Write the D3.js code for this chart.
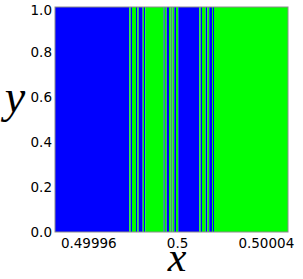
<!DOCTYPE html>
<html>
<head>
<meta charset="utf-8">
<script src="https://cdn.jsdelivr.net/npm/d3@7"></script>
<style>
  body { margin: 0; background: #fff; }
  svg { display: block; }
</style>
</head>
<body>
<div id="chart"></div>
<script>
// stripe boundaries along x (the pattern is constant in y)
var breaks = [0.499945, 0.49997848, 0.49997911, 0.4999797, 0.4999815, 0.49998209, 0.49998272,
  0.49998452, 0.49998511, 0.49998569, 0.49999398, 0.49999443, 0.49999534, 0.49999637,
  0.49999714, 0.49999804, 0.49999876, 0.49999953, 0.50000056, 0.50001003, 0.50001066,
  0.50001124, 0.50001291, 0.50001363, 0.50001453, 0.50001575, 0.5000162, 0.50001665, 0.50005];
// basin of each stripe: 0 = blue, 1 = green, 2 = mixed
var basin = [0, 1, 0, 1, 0, 1, 0, 1, 0, 1, 0, 1, 0, 1, 2, 1, 0, 1, 0, 1, 0, 1, 0, 1, 0, 1, 0, 1];
var xTicks = [0.49996, 0.5, 0.50004];
var xTickLabels = ["0.49996", "0.5", "0.50004"];
var yTicks = [0, 0.2, 0.4, 0.6, 0.8, 1.0];

var W = 303, H = 279;
var margin = { top: 7, right: 15, bottom: 47, left: 55 },
    width = W - margin.left - margin.right,
    height = H - margin.top - margin.bottom;

var svg = d3.select("#chart").append("svg")
    .attr("width", W)
    .attr("height", H);

var g = svg.append("g")
    .attr("transform", "translate(" + margin.left + "," + margin.top + ")");

var x = d3.scaleLinear().domain([breaks[0], breaks[breaks.length - 1]]).range([0, width]);
var y = d3.scaleLinear().domain([0, 1]).range([height, 0]);
var color = d3.scaleOrdinal().domain([0, 1, 2]).range(["#0000ff", "#00ff00", "#3f9f6a"]);

var stripes = basin.map(function (b, i) { return { x0: breaks[i], x1: breaks[i + 1], b: b }; });

g.selectAll("rect.stripe")
  .data(stripes)
  .enter().append("rect")
    .attr("class", "stripe")
    .attr("x", function (d) { return x(d.x0); })
    .attr("width", function (d) { return x(d.x1) - x(d.x0); })
    .attr("y", y(1))
    .attr("height", y(0) - y(1))
    .attr("fill", function (d) { return color(d.b); });

// frame
g.append("rect")
  .attr("x", 0).attr("y", 0)
  .attr("width", width).attr("height", height)
  .attr("fill", "none")
  .attr("stroke", "#8c8c8c")
  .attr("stroke-width", 1);

// x axis, labels only
var xAxis = g.append("g")
  .attr("transform", "translate(0," + height + ")")
  .call(d3.axisBottom(x).tickValues(xTicks).tickFormat(function (d, i) { return xTickLabels[i]; }).tickSize(0).tickPadding(6));
xAxis.select(".domain").remove();
xAxis.selectAll("text")
  .attr("font-family", "DejaVu Sans, sans-serif")
  .attr("font-size", 13.5)
  .attr("fill", "#000");

// y axis, labels only
var yAxis = g.append("g")
  .call(d3.axisLeft(y).tickValues(yTicks).tickFormat(d3.format(".1f")).tickSize(0).tickPadding(3));
yAxis.select(".domain").remove();
yAxis.selectAll("text")
  .attr("font-family", "DejaVu Sans, sans-serif")
  .attr("font-size", 13.5)
  .attr("fill", "#000")
  .attr("dy", function (d) { return d === 1 ? "0.55em" : "0.32em"; });

// axis titles
svg.append("text")
  .attr("x", margin.left + x(0.5))
  .attr("y", 271)
  .attr("text-anchor", "middle")
  .attr("font-family", "Liberation Serif, serif")
  .attr("font-style", "italic")
  .attr("font-size", 42)
  .text("x");

svg.append("text")
  .attr("x", 15)
  .attr("y", 112)
  .attr("text-anchor", "middle")
  .attr("font-family", "Liberation Serif, serif")
  .attr("font-style", "italic")
  .attr("font-size", 46)
  .text("y");
</script>
</body>
</html>
